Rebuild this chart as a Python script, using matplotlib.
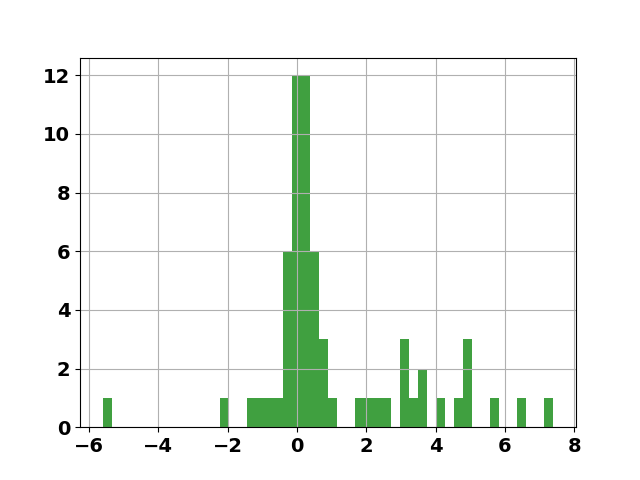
import numpy as np
import matplotlib
matplotlib.use("Agg")
import matplotlib.pyplot as plt

# histogram: 50 equal bins between data min and max
data_min = -5.61
data_max = 7.40
counts = [1, 0, 0, 0, 0, 0, 0, 0, 0, 0,
          0, 0, 0, 1, 0, 0, 1, 1, 1, 1,
          6, 12, 12, 6, 3, 1, 0, 0, 1, 1,
          1, 1, 0, 3, 1, 2, 0, 1, 0, 1,
          3, 0, 0, 1, 0, 0, 1, 0, 0, 1]

edges = np.linspace(data_min, data_max, len(counts) + 1)
centers = (edges[:-1] + edges[1:]) / 2

plt.rcParams['font.family'] = ['DejaVu Sans']
plt.rcParams['font.weight'] = 'bold'
plt.rcParams['font.size'] = 14

fig, ax = plt.subplots(figsize=(6.4, 4.8), dpi=100)
ax.hist(centers, bins=edges, weights=counts, color='green', alpha=0.75)
ax.grid(True)
for lab in ax.get_xticklabels() + ax.get_yticklabels():
    lab.set_fontweight('bold')
fig.savefig('out.png')
